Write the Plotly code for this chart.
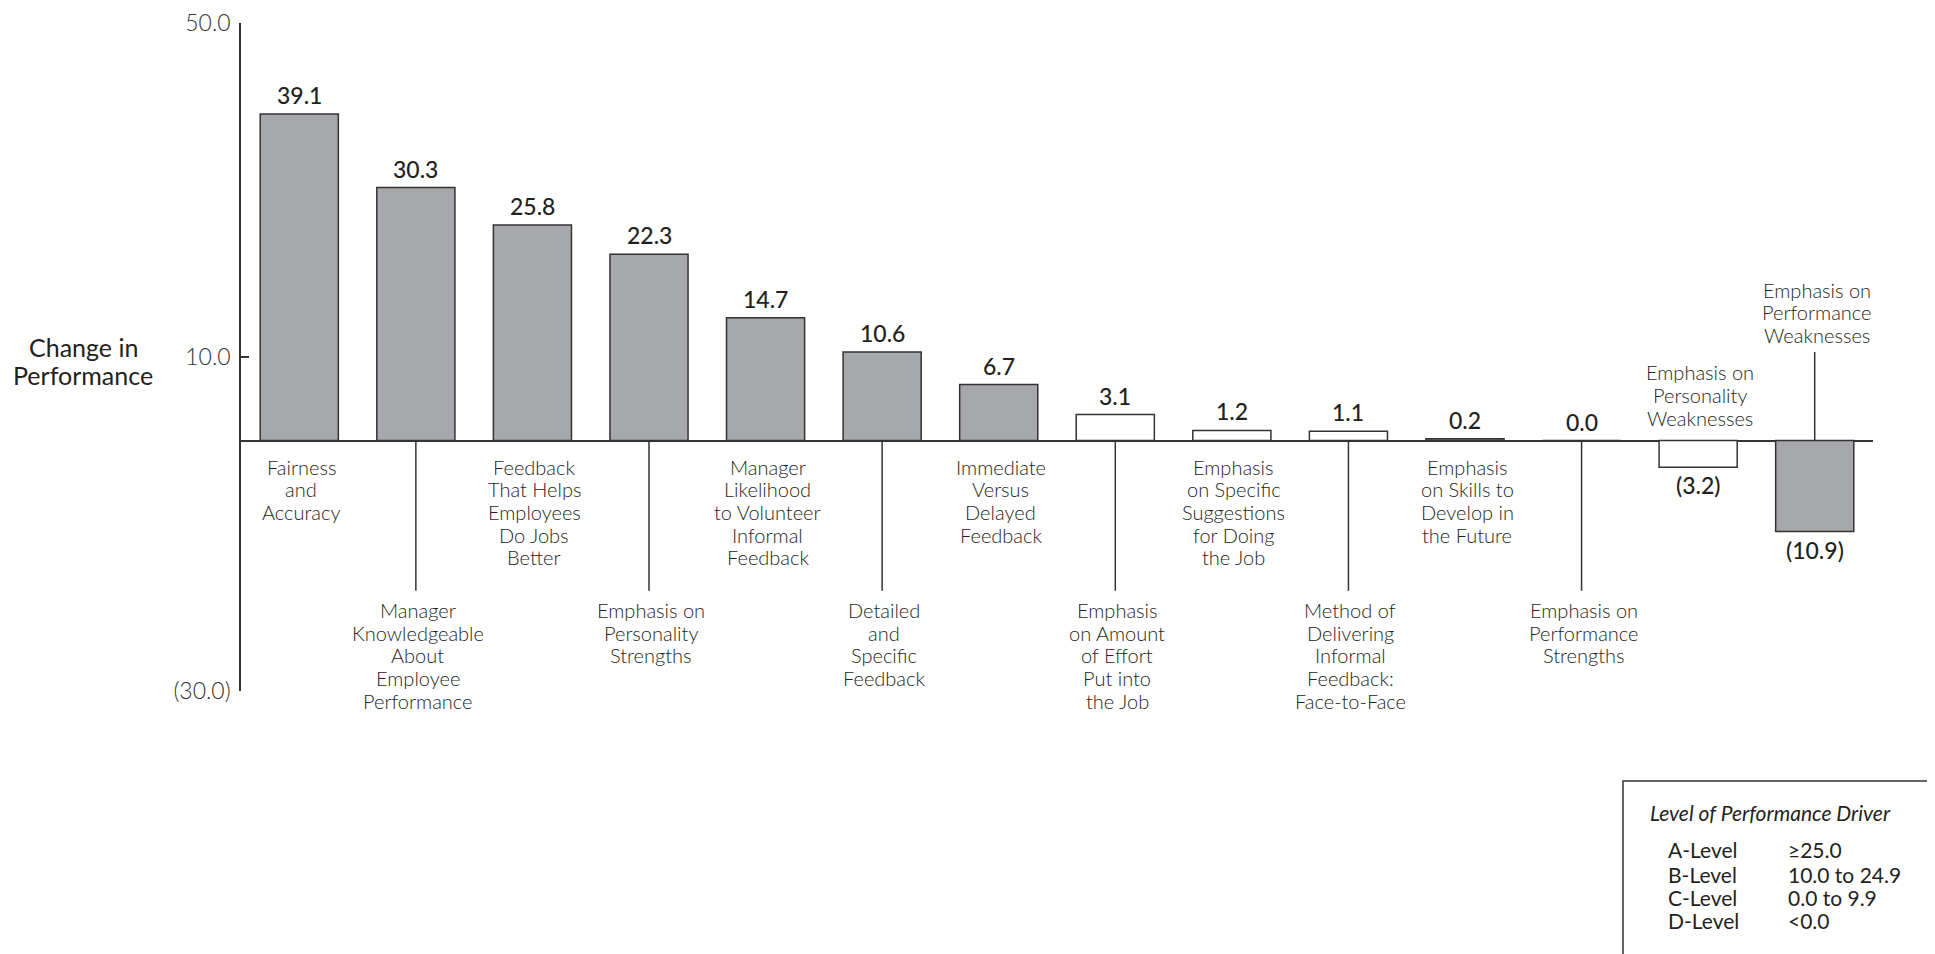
import plotly.graph_objects as go

# ---- data ----
categories = [
    "Fairness<br>and<br>Accuracy",
    "Manager<br>Knowledgeable<br>About<br>Employee<br>Performance",
    "Feedback<br>That Helps<br>Employees<br>Do Jobs<br>Better",
    "Emphasis on<br>Personality<br>Strengths",
    "Manager<br>Likelihood<br>to Volunteer<br>Informal<br>Feedback",
    "Detailed<br>and<br>Specific<br>Feedback",
    "Immediate<br>Versus<br>Delayed<br>Feedback",
    "Emphasis<br>on Amount<br>of Effort<br>Put into<br>the Job",
    "Emphasis<br>on Specific<br>Suggestions<br>for Doing<br>the Job",
    "Method of<br>Delivering<br>Informal<br>Feedback:<br>Face-to-Face",
    "Emphasis<br>on Skills to<br>Develop in<br>the Future",
    "Emphasis on<br>Performance<br>Strengths",
    "Emphasis on<br>Personality<br>Weaknesses",
    "Emphasis on<br>Performance<br>Weaknesses",
]
values = [39.1, 30.3, 25.8, 22.3, 14.7, 10.6, 6.7, 3.1, 1.2, 1.1, 0.2, 0.0, -3.2, -10.9]
shaded = [True, True, True, True, True, True, True, False, False, False, True, True, False, True]

y_tick_vals = [50, 10, -30]
y_tick_text = ["50.0", "10.0", "(30.0)"]

y_title = "Change in<br>Performance"
legend_title = "Level of Performance Driver"
legend_levels = ["A-Level", "B-Level", "C-Level", "D-Level"]
legend_ranges = ["≥25.0", "10.0 to 24.9", "0.0 to 9.9", "<0.0"]

# ---- styling ----
GRAY = "#a7a8ab"
EDGE = "#333333"
TXT = "#231f20"
FONT = "Lato"

W, H = 1935, 954
OFF = 8  # browser body margin
# plot area in page pixels
PX0, PX1, PY0, PY1 = 241, 1873, 23, 691
PW = PX1 - PX0
PH = PY1 - PY0
ML = PX0 - OFF
MT = PY0 - OFF
MR = W - (PX1 - OFF)
MB = H - (PY1 - OFF)


def px(xp):
    return (xp - PX0) / PW


def py(yp):
    return (PY1 - yp) / PH


annotations = []
shapes = []


def add_lines(text, x, y, xref, yref, shifts, font, xanchor="center", xshift=0):
    for line, s in zip(text.split("<br>"), shifts):
        annotations.append(dict(x=x, y=y, xref=xref, yref=yref, text=line, showarrow=False,
                                xanchor=xanchor, yanchor="middle", yshift=s, xshift=xshift,
                                font=font))


fig = go.Figure()
fig.add_trace(go.Bar(
    x=categories,
    y=values,
    marker=dict(color=[GRAY if s else "white" for s in shaded],
                line=dict(color=EDGE, width=1.5)),
    hoverinfo="skip",
))

LS = 22.7  # label line spacing (px)
below_leader = -18
above_leader = 10.6
val_font = dict(family=FONT, size=23, color=TXT, weight=500)
lab_font = dict(family=FONT, size=20, color=TXT, weight=300)

for i, (cat, v) in enumerate(zip(categories, values)):
    # value labels
    if v >= 0:
        annotations.append(dict(x=cat, y=v, xref="x", yref="y", text=f"{v:.1f}",
                                showarrow=False, yanchor="bottom", yshift=3, font=val_font))
    else:
        annotations.append(dict(x=cat, y=v, xref="x", yref="y", text=f"({abs(v):.1f})",
                                showarrow=False, yanchor="top", yshift=-2, font=val_font))
    # category labels
    n = len(cat.split("<br>"))
    near = (i % 2 == 0)
    if v >= 0:
        if near:
            add_lines(cat, cat, 0, "x", "y", [-(26 + LS * k) for k in range(n)], lab_font, xshift=2)
        else:
            shapes.append(dict(type="line", xref="x", yref="y", x0=i, x1=i, y0=0, y1=below_leader,
                               line=dict(color=EDGE, width=1.5)))
            add_lines(cat, cat, below_leader, "x", "y", [-(19 + LS * k) for k in range(n)], lab_font,
                      xshift=2)
    else:
        if near:
            add_lines(cat, cat, 0, "x", "y", [23 + LS * (n - 1 - k) for k in range(n)], lab_font,
                      xshift=2)
        else:
            shapes.append(dict(type="line", xref="x", yref="y", x0=i, x1=i, y0=0, y1=above_leader,
                               line=dict(color=EDGE, width=1.5)))
            add_lines(cat, cat, above_leader, "x", "y", [17 + LS * (n - 1 - k) for k in range(n)],
                      lab_font, xshift=2)

# y-axis title
add_lines(y_title, px(83), py(361), "paper", "paper", [14, -14],
          dict(family=FONT, size=25, color=TXT, weight=400))

# legend box
shapes.append(dict(type="rect", xref="paper", yref="paper",
                   x0=px(1623), x1=px(1929), y0=py(781), y1=py(1010),
                   line=dict(color=EDGE, width=1.5), fillcolor="white", layer="below"))
annotations.append(dict(x=px(1648), y=py(812), xref="paper", yref="paper",
                        text=f"<i>{legend_title}</i>", showarrow=False,
                        xanchor="left", yanchor="middle",
                        font=dict(family=FONT, size=21, color=TXT)))
row_y = [850, 874, 897, 921]
leg_font = dict(family=FONT, size=21, color=TXT)
for lvl, rng, ry in zip(legend_levels, legend_ranges, row_y):
    annotations.append(dict(x=px(1666), y=py(ry), xref="paper", yref="paper", text=lvl,
                            showarrow=False, xanchor="left", yanchor="middle", font=leg_font))
    annotations.append(dict(x=px(1786), y=py(ry), xref="paper", yref="paper", text=rng,
                            showarrow=False, xanchor="left", yanchor="middle", font=leg_font))

fig.update_layout(
    width=W, height=H,
    margin=dict(l=ML, r=MR, t=MT, b=MB, pad=0, autoexpand=False),
    paper_bgcolor="white", plot_bgcolor="white",
    bargap=0.33,
    showlegend=False,
    annotations=annotations,
    shapes=shapes,
    xaxis=dict(range=[-0.5, 13.5], showticklabels=False, showgrid=False, zeroline=False,
               showline=False, ticks="", fixedrange=True, automargin=False),
    yaxis=dict(range=[-30, 50], tickvals=y_tick_vals, ticktext=y_tick_text,
               showgrid=False, zeroline=True, zerolinecolor=EDGE, zerolinewidth=1.5,
               showline=True, linecolor=EDGE, linewidth=1.5,
               ticks="inside", ticklen=8, tickwidth=1.5, tickcolor=EDGE,
               ticklabelstandoff=4, ticklabeloverflow="allow", automargin=False,
               tickfont=dict(family=FONT, size=23, color="#333333", weight=300),
               fixedrange=True),
)

fig.write_html("out.html")
